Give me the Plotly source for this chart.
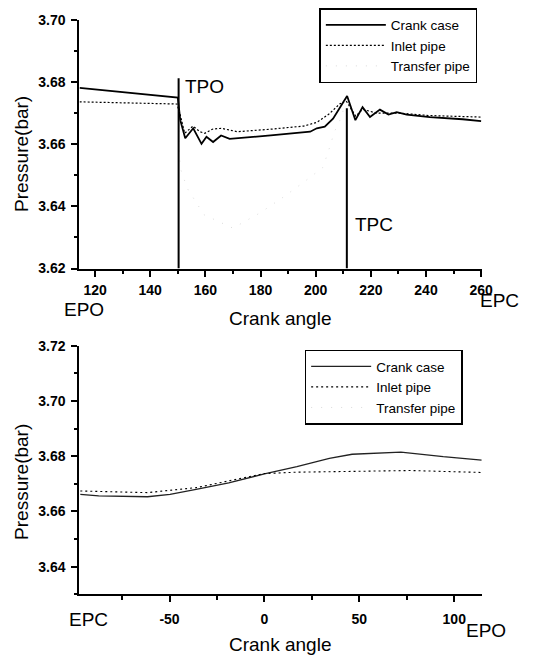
import plotly.graph_objects as go

# ---------------- data: top panel (EPO -> EPC) ----------------
crank_top_x = [114.4, 130, 150.0, 150.9, 152.7, 155.6, 158.6, 160.4, 162.8, 165.7, 168.8,
               183.7, 198.0, 200.4, 203.3, 206.3, 211.4, 214.4, 217.0, 219.7, 223.3,
               226.4, 229.4, 233.0, 241.4, 253.3, 260.0]
crank_top_y = [3.6781, 3.6768, 3.6750, 3.6677, 3.6619, 3.6651, 3.6601, 3.6624, 3.6607, 3.6628, 3.6617,
               3.6628, 3.6640, 3.6651, 3.6656, 3.6682, 3.6755, 3.6677, 3.6719, 3.6687, 3.6711,
               3.6695, 3.6703, 3.6695, 3.6687, 3.6680, 3.6674]

inlet_top_x = [114.4, 149.7, 151.0, 152.5, 155.5, 158.0, 159.8, 162.5, 165.7, 171.6, 183.7,
               195.6, 200.4, 205.0, 208.7, 211.0, 214.5, 217.0, 222.0, 230.0, 241.0, 260.0]
inlet_top_y = [3.6736, 3.6729, 3.6690, 3.6635, 3.6658, 3.6640, 3.6635, 3.6648, 3.6651, 3.6640, 3.6648,
               3.6658, 3.6670, 3.6698, 3.6729, 3.6740, 3.6690, 3.6712, 3.6700, 3.6700, 3.6692, 3.6687]

transfer_top_x = [150.3, 150.6, 151.2, 153.5, 159.5, 170.0, 180.0, 188.3, 196.0, 202.6, 205.0, 206.8, 209.5, 211.0]
transfer_top_y = [3.6740, 3.6557, 3.6515, 3.6457, 3.6373, 3.6330, 3.6380, 3.6430, 3.6480, 3.6525, 3.6588, 3.6640, 3.6690, 3.6750]

# port events (crank angle, top of marker line)
tpo_angle, tpo_top = 150.3, 3.6812
tpc_angle, tpc_top = 211.3, 3.6715

# ---------------- data: bottom panel (EPC -> EPO) ----------------
crank_bot_x = [-97.0, -87.3, -61.6, -49.7, -36.0, -18.8, 0.0, 17.1, 34.2, 46.2, 71.9, 94.2, 114.4]
crank_bot_y = [3.6662, 3.6656, 3.6653, 3.6662, 3.6680, 3.6703, 3.6736, 3.6762, 3.6792, 3.6807, 3.6815, 3.6798, 3.6786]

inlet_bot_x = [-97.0, -61.6, -36.0, 0.0, 17.0, 51.4, 77.0, 114.4]
inlet_bot_y = [3.6674, 3.6668, 3.6686, 3.6737, 3.6742, 3.6745, 3.6748, 3.6741]

series_names = ["Crank case", "Inlet pipe", "Transfer pipe"]

top_xticks = [120, 140, 160, 180, 200, 220, 240, 260]
top_yticks = [3.62, 3.64, 3.66, 3.68, 3.70]
bot_xticks = [-50, 0, 50, 100]
bot_xticktext = ["-50", "0", "50", "100"]
bot_yticks = [3.64, 3.66, 3.68, 3.70, 3.72]

W, H = 539, 666
FONT = "Liberation Sans, Arial, sans-serif"

fig = go.Figure()

faint = dict(color="#dadada", width=1, dash="1px,9px")

# top traces
fig.add_trace(go.Scatter(x=crank_top_x, y=crank_top_y, mode="lines", name=series_names[0],
                         line=dict(color="black", width=1.8), xaxis="x", yaxis="y", legend="legend"))
fig.add_trace(go.Scatter(x=inlet_top_x, y=inlet_top_y, mode="lines", name=series_names[1],
                         line=dict(color="black", width=1.2, dash="2px,2px"), xaxis="x", yaxis="y", legend="legend"))
fig.add_trace(go.Scatter(x=transfer_top_x, y=transfer_top_y, mode="lines", name=series_names[2],
                         line=faint, xaxis="x", yaxis="y", legend="legend"))

# bottom traces
fig.add_trace(go.Scatter(x=crank_bot_x, y=crank_bot_y, mode="lines", name=series_names[0],
                         line=dict(color="#222222", width=1.3), xaxis="x2", yaxis="y2", legend="legend2"))
fig.add_trace(go.Scatter(x=inlet_bot_x, y=inlet_bot_y, mode="lines", name=series_names[1],
                         line=dict(color="black", width=1.1, dash="2px,3px"), xaxis="x2", yaxis="y2", legend="legend2"))
fig.add_trace(go.Scatter(x=[None], y=[None], mode="lines", name=series_names[2],
                         line=faint, xaxis="x2", yaxis="y2", legend="legend2"))

# port marker lines
for ang, top in [(tpo_angle, tpo_top), (tpc_angle, tpc_top)]:
    fig.add_shape(type="line", xref="x", yref="y", x0=ang, x1=ang, y0=top_yticks[0], y1=top,
                  line=dict(color="black", width=2))

tickfont = dict(family=FONT, size=14, color="black", weight="bold")
common_axis = dict(showline=True, linecolor="black", linewidth=2, showgrid=False, zeroline=False,
                   ticks="outside", ticklen=6, tickwidth=2, tickcolor="black", tickfont=tickfont)

x_dom = [81 / W, 492 / W]
legend_font = dict(family=FONT, size=13.5, color="black")
fig.update_layout(
    width=W, height=H, margin=dict(l=0, r=0, t=0, b=0),
    paper_bgcolor="white", plot_bgcolor="white",
    font=dict(family=FONT, color="black"),
    xaxis=dict(domain=x_dom, anchor="y", range=[114.3, 260.3], tickmode="array", tickvals=top_xticks,
               minor=dict(dtick=10, tick0=120, ticks="outside", ticklen=3, tickwidth=1.5, tickcolor="black"),
               ticklabelstandoff=2, **common_axis),
    yaxis=dict(domain=[1 - 267 / H, 1 - 12 / H], anchor="x", range=[3.62, 3.70], tickmode="array",
               tickvals=top_yticks, tickformat=".2f",
               minor=dict(dtick=0.01, tick0=3.62, ticks="outside", ticklen=3, tickwidth=1.5, tickcolor="black"),
               ticklabelstandoff=3, **common_axis),
    xaxis2=dict(domain=x_dom, anchor="y2", range=[-97.5, 114.6], tickmode="array", tickvals=bot_xticks,
                ticktext=bot_xticktext,
                minor=dict(tickmode="array", tickvals=[-75, -25, 25, 75], ticks="outside", ticklen=4,
                           tickwidth=1.5, tickcolor="black"),
                ticklabelstandoff=5, **common_axis),
    yaxis2=dict(domain=[1 - 600.7 / H, 1 - 346 / H], anchor="x2", range=[3.63, 3.72], tickmode="array",
                tickvals=bot_yticks, tickformat=".2f",
                minor=dict(dtick=0.01, tick0=3.63, ticks="outside", ticklen=3, tickwidth=1.5, tickcolor="black"),
                ticklabelstandoff=3, **common_axis),
    legend=dict(x=326 / W, y=1.0, xanchor="left", yanchor="top", bgcolor="white",
                bordercolor="black", borderwidth=1.5, itemwidth=60,
                font=legend_font, tracegroupgap=0),
    legend2=dict(x=311 / W, y=1 - 350 / H, xanchor="left", yanchor="top", bgcolor="white",
                 bordercolor="black", borderwidth=1.5, itemwidth=60,
                 font=legend_font, tracegroupgap=0),
    showlegend=True,
)

def note(text, x, y, size=18, rot=0):
    fig.add_annotation(text=text, xref="paper", yref="paper", x=x / W, y=1 - y / H,
                       xanchor="center", yanchor="middle", showarrow=False, textangle=rot,
                       font=dict(family=FONT, size=size, color="black"))

# axis titles
note("Pressure(bar)", 22, 150, 19, -90)
note("Crank angle", 286, 318, 19)
note("Pressure(bar)", 22, 486, 19, -90)
note("Crank angle", 286, 652, 19)
# event labels
note("TPO", 209, 80, 19)
note("TPC", 382, 222, 19)
note("EPO", 86, 309, 19)
note("EPC", 510, 300, 19)
note("EPC", 90, 627, 19)
note("EPO", 496, 638, 19)

fig.write_html("out.html")
